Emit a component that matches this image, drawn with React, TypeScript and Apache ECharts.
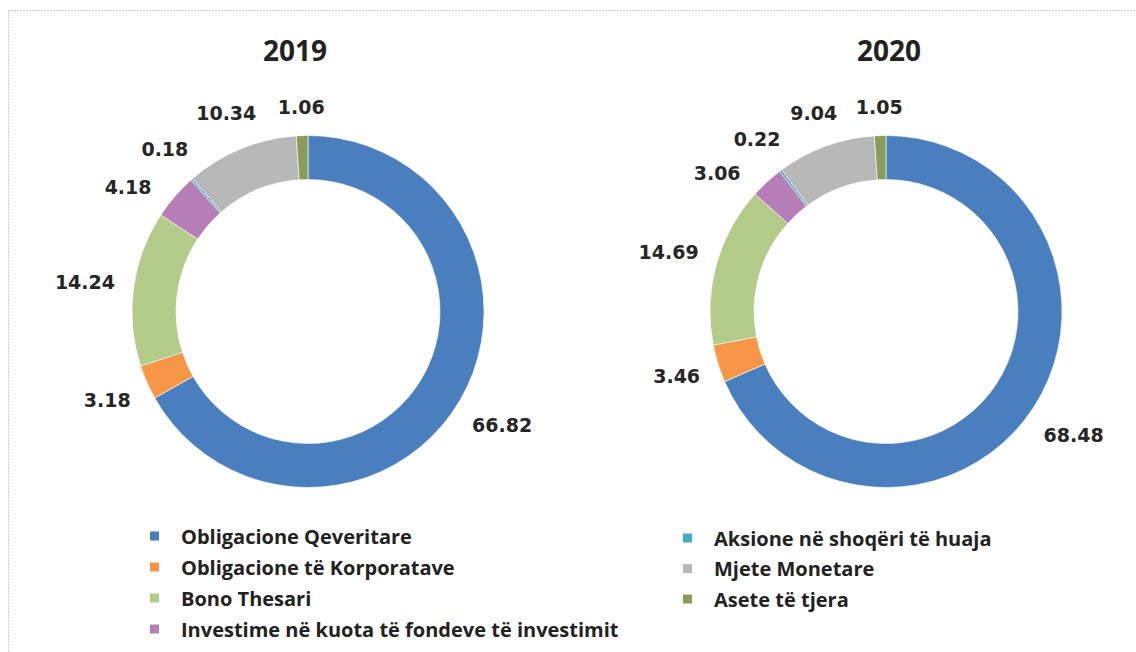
import React, { useEffect, useRef } from "react";
import * as echarts from "echarts";

const categories = [
  "Obligacione Qeveritare",
  "Obligacione të Korporatave",
  "Bono Thesari",
  "Investime në kuota të fondeve të investimit",
  "Aksione në shoqëri të huaja",
  "Mjete Monetare",
  "Asete të tjera",
];
const values2019 = [66.82, 3.18, 14.24, 4.18, 0.18, 10.34, 1.06];
const values2020 = [68.48, 3.46, 14.69, 3.06, 0.22, 9.04, 1.05];
const years = ["2019", "2020"];
const colors = ["#4A7FBF", "#F79646", "#B2CB89", "#B67EB7", "#46ABC8", "#B8B8B8", "#879D58"];

const LABEL_FONT = "'DejaVu Sans', sans-serif";
const TEXT_FONT = "'Open Sans', sans-serif";
const MIN_SEP = 14; // minimum angular separation of label directions, degrees

// Angular shifts (degrees) so that labels of tiny neighbouring slices do not collide
function angleShifts(values: number[]) {
  const total = values.reduce((a, b) => a + b, 0);
  let acc = 0;
  const mids = values.map((v) => {
    const m = ((acc + v / 2) / total) * 360;
    acc += v;
    return m;
  });
  const adj = mids.slice();
  for (let i = adj.length - 2; i >= 0; i--) {
    if (adj[i + 1] - adj[i] < MIN_SEP) adj[i] = adj[i + 1] - MIN_SEP;
  }
  return adj.map((a, i) => a - mids[i]);
}

function makeLabelLayout(values: number[]) {
  const shifts = angleShifts(values);
  return (params: any) => {
    const pts = params.labelLinePoints;
    const r = params.labelRect;
    if (!pts || pts.length < 2) return {};
    const [x1, y1] = pts[0];
    const [x2, y2] = pts[1];
    let dx = x2 - x1;
    let dy = y2 - y1;
    const len = Math.sqrt(dx * dx + dy * dy) || 1;
    dx /= len;
    dy /= len;
    const shift = ((shifts[params.dataIndex] || 0) * Math.PI) / 180;
    let ox = x1;
    let oy = y1;
    if (shift !== 0) {
      // rotate the edge point and direction around the pie centre
      const theta = Math.atan2(dx, -dy) + shift;
      const ndx = Math.sin(theta);
      const ndy = -Math.cos(theta);
      // radius of the edge point: find centre from the direction
      const rad = 176;
      const cx = x1 - dx * rad;
      const cy = y1 - dy * rad;
      ox = cx + ndx * rad;
      oy = cy + ndy * rad;
      dx = ndx;
      dy = ndy;
    }
    const gap = 18;
    const d = gap + (Math.abs(dx) * r.width) / 2 + (Math.abs(dy) * r.height) / 2;
    return {
      x: ox + dx * d,
      y: oy + dy * d,
      align: "center",
      verticalAlign: "middle",
    };
  };
}

function makeSeries(values: number[], center: [number, number]) {
  return {
    type: "pie",
    center,
    radius: [132, 176],
    startAngle: 90,
    clockwise: true,
    avoidLabelOverlap: false,
    itemStyle: { borderColor: "#ffffff", borderWidth: 0.6 },
    label: {
      show: true,
      position: "outside",
      formatter: (p: any) => p.value.toFixed(2),
      fontFamily: LABEL_FONT,
      fontWeight: "bold",
      fontSize: 19,
      color: "#262626",
    },
    labelLine: { show: true, length: 10, length2: 0, lineStyle: { opacity: 0, width: 0 } },
    labelLayout: makeLabelLayout(values),
    emphasis: { disabled: true },
    data: categories.map((name, i) => ({
      name,
      value: values[i],
      itemStyle: { color: colors[i] },
    })),
  };
}

export default function App() {
  const ref = useRef<HTMLDivElement>(null);
  useEffect(() => {
    if (!ref.current) return;
    const chart = echarts.init(ref.current, undefined, { renderer: "svg" });
    const legendText = {
      fontFamily: TEXT_FONT,
      fontWeight: "bold",
      fontSize: 20,
      lineHeight: 20,
      color: "#222222",
      padding: [0, 0, 0, 16],
    };
    chart.setOption({
      animation: false,
      backgroundColor: "#ffffff",
      color: colors,
      legend: [
        {
          orient: "vertical",
          left: 148,
          top: 526,
          padding: 0,
          itemWidth: 11,
          itemHeight: 11,
          itemGap: 11,
          icon: "rect",
          data: categories.slice(0, 4),
          textStyle: legendText,
        },
        {
          orient: "vertical",
          left: 681,
          top: 528,
          padding: 0,
          itemWidth: 11,
          itemHeight: 11,
          itemGap: 10.5,
          icon: "rect",
          data: categories.slice(4),
          textStyle: legendText,
        },
      ],
      graphic: [
        {
          type: "rect",
          silent: true,
          shape: { x: 8.5, y: 10.5, width: 1200, height: 700 },
          style: { fill: "none", stroke: "#A0A0A0", lineWidth: 1, lineDash: [1, 2] },
        },
        {
          type: "text",
          x: 295,
          y: 50,
          style: {
            text: years[0],
            fontFamily: TEXT_FONT,
            fontWeight: "bold",
            fontSize: 28,
            fill: "#222222",
            textAlign: "center",
            textVerticalAlign: "middle",
          },
        },
        {
          type: "text",
          x: 889,
          y: 50,
          style: {
            text: years[1],
            fontFamily: TEXT_FONT,
            fontWeight: "bold",
            fontSize: 28,
            fill: "#222222",
            textAlign: "center",
            textVerticalAlign: "middle",
          },
        },
      ],
      series: [makeSeries(values2019, [308, 311.5]), makeSeries(values2020, [886, 311.5])],
    });
    return () => chart.dispose();
  }, []);
  return (
    <div
      ref={ref}
      style={{ position: "fixed", left: 0, top: 0, width: 1136, height: 652 }}
    />
  );
}
